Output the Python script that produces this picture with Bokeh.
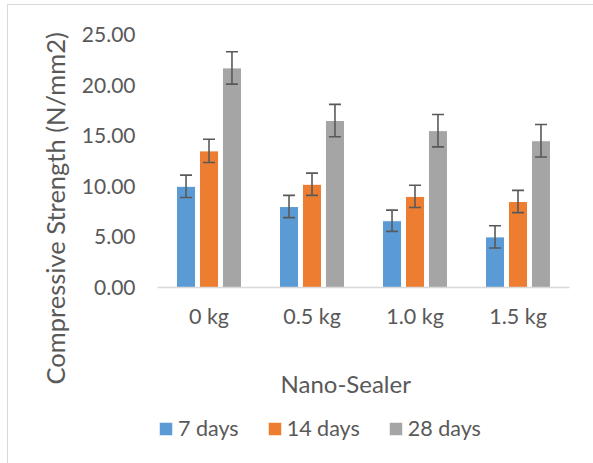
from bokeh.plotting import figure
from bokeh.layouts import column
from bokeh.models import (ColumnDataSource, FactorRange, Range1d, Whisker, TeeHead,
                          FixedTicker, NumeralTickFormatter, Legend, LegendItem, Title)
from bokeh.transform import dodge
from bokeh.embed import file_html
from bokeh.resources import INLINE

categories = ["0 kg", "0.5 kg", "1.0 kg", "1.5 kg"]
series_names = ["7 days", "14 days", "28 days"]
days7 = [10.0, 8.0, 6.6, 5.0]
days14 = [13.5, 10.2, 9.0, 8.5]
days28 = [21.7, 16.5, 15.5, 14.5]
err7 = [1.1, 1.1, 1.05, 1.1]
err14 = [1.15, 1.1, 1.1, 1.1]
err28 = [1.6, 1.6, 1.6, 1.6]
y_ticks = [0, 5, 10, 15, 20, 25]

colors = ["#5B9BD5", "#ED7D31", "#A5A5A5"]
offsets = [-0.223, 0.0, 0.223]
FONT = "Lato"
TXT = "#595959"

# ---------- main chart ----------
p = figure(x_range=FactorRange(factors=categories, range_padding=0),
           y_range=Range1d(0, 25), frame_width=412, frame_height=253,
           output_backend="svg", toolbar_location=None,
           min_border_left=157, min_border_right=24,
           min_border_top=34, min_border_bottom=112)
p.outline_line_color = None
p.xgrid.visible = False
p.ygrid.visible = False
p.border_fill_color = None
p.background_fill_color = None

sources = []
for name, vals, errs, col, off in zip(series_names, [days7, days14, days28],
                                       [err7, err14, err28], colors, offsets):
    src = ColumnDataSource(dict(cat=categories, val=vals,
                                idx=list(range(len(categories))),
                                up=[v + e for v, e in zip(vals, errs)],
                                lo=[v - e for v, e in zip(vals, errs)]))
    sources.append(src)
    p.vbar(x=dodge("cat", off, range=p.x_range), top="val", width=0.185,
           source=src, fill_color=col, line_color="white", line_width=1)
    w = Whisker(base=dodge("cat", off, range=p.x_range), upper="up", lower="lo",
                source=src, line_color="#595959", line_width=1.6, level="overlay",
                upper_head=TeeHead(size=12, line_color="#595959", line_width=1.6),
                lower_head=TeeHead(size=12, line_color="#595959", line_width=1.6))
    p.add_layout(w)

p.yaxis.ticker = FixedTicker(ticks=y_ticks)
p.yaxis.formatter = NumeralTickFormatter(format="0.00")
p.yaxis.axis_line_color = None
p.yaxis.major_tick_line_color = None
p.yaxis.minor_tick_line_color = None
p.yaxis.major_tick_out = 0
p.yaxis.major_tick_in = 0
p.yaxis.major_label_standoff = 22
p.yaxis.major_label_text_font = FONT
p.yaxis.major_label_text_font_size = "21px"
p.yaxis.major_label_text_color = TXT

p.xaxis.axis_line_color = "#D9D9D9"
p.xaxis.axis_line_width = 1.5
p.xaxis.major_tick_line_color = None
p.xaxis.minor_tick_line_color = None
p.xaxis.major_tick_out = 0
p.xaxis.major_tick_in = 0
p.xaxis.major_label_standoff = 15
p.xaxis.major_label_text_font = FONT
p.xaxis.major_label_text_font_size = "21.5px"
p.xaxis.major_label_text_color = TXT

p.add_layout(Title(text="Compressive Strength (N/mm2)", align="left", offset=-97,
                   standoff=18, text_font=FONT, text_font_size="25.5px",
                   text_font_style="normal", text_color=TXT), "left")
# blank spacer title between the tick labels and the axis title
p.add_layout(Title(text=" ", standoff=21, text_font=FONT, text_font_size="10px",
                   text_color=TXT), "below")
p.add_layout(Title(text="Nano-Sealer", align="left", offset=123, standoff=0,
                   text_font=FONT, text_font_size="24px",
                   text_font_style="normal", text_color=TXT), "below")

# ---------- legend strip ----------
q = figure(width=593, height=64, x_range=Range1d(0, 1), y_range=Range1d(0, 1),
           x_axis_type=None, y_axis_type=None, output_backend="svg",
           toolbar_location=None, min_border=0)
q.outline_line_color = None
q.xgrid.visible = False
q.ygrid.visible = False
q.border_fill_color = None
q.background_fill_color = None

items = []
for name, col, src in zip(series_names, colors, sources):
    r = q.vbar(x="idx", top="val", width=0.1, source=src, fill_color=col,
               line_color="white", line_width=1, visible=False)
    items.append(LegendItem(label=name, renderers=[r]))

legend = Legend(items=items, orientation="horizontal", location=(0, 22),
                glyph_width=17, glyph_height=17, label_standoff=4, spacing=27,
                padding=0, margin=0, border_line_color=None,
                background_fill_alpha=0,
                label_text_font=FONT, label_text_font_size="21.5px",
                label_text_color=TXT)
q.add_layout(legend, "center")

layout = column(p, q, spacing=0)
layout.styles = {
    "background-color": "white",
    "background-image": "linear-gradient(#D9D9D9,#D9D9D9), linear-gradient(#D9D9D9,#D9D9D9)",
    "background-size": "1px 470px, 600px 1px",
    "background-position": "7px 4px, 7px 4px",
    "background-repeat": "no-repeat",
}

open("out.html", "w").write(file_html(layout, INLINE))
